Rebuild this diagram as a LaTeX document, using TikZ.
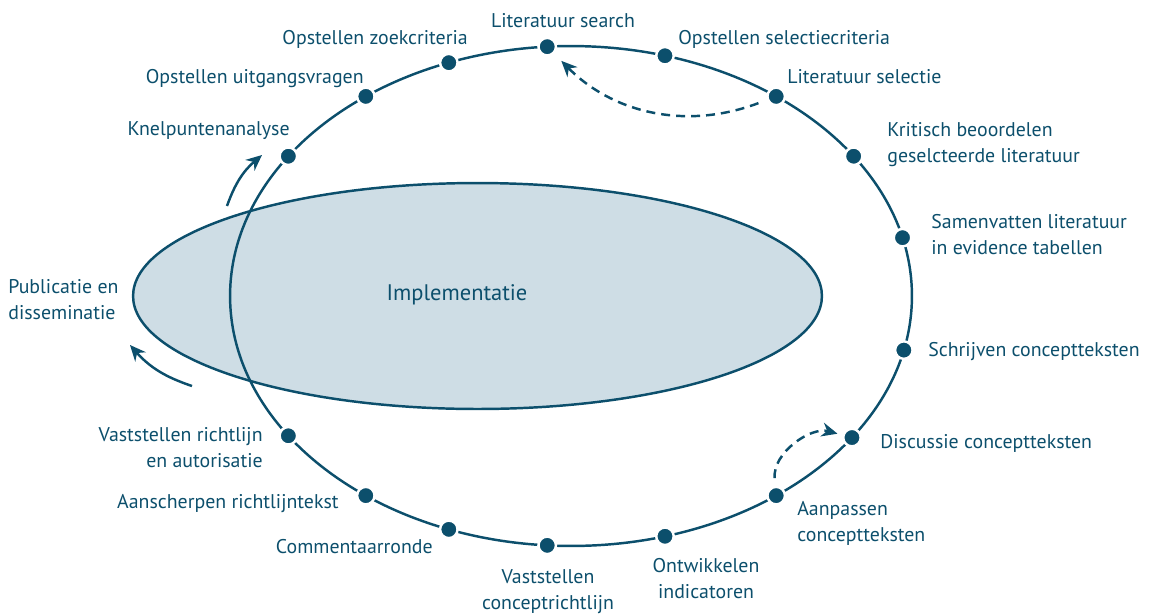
\documentclass[tikz,border=0pt]{standalone}
\usepackage{fontspec}
\setmainfont{PT Sans}
\usetikzlibrary{arrows.meta}
\definecolor{rblue}{RGB}{12,79,108}
\definecolor{rfill}{RGB}{206,221,229}

\begin{document}
\begin{tikzpicture}[x=0.02cm, y=-0.02cm,
    dot/.style={circle, fill=rblue, draw=white, line width=1.4pt, minimum size=0.35cm, inner sep=0},
    lbl/.style={text=rblue, font=\fontsize{11.3}{14.7}\selectfont, inner sep=0},
    flow/.style={rblue, line width=1.4pt, -{Stealth[length=9pt,width=8pt]}},
    flowdash/.style={flow, dash pattern=on 0.18cm off 0.12cm}]
    \useasboundingbox (0,0) rectangle (1149,613);
    \coordinate (c) at (571,296);
    \draw [fill=rfill, draw=rblue, line width=1.4pt] (477.5,296) ellipse [x radius=6.89cm, y radius=2.26cm];
    \draw [rblue, line width=1.4pt] (c) ellipse [x radius=6.82cm, y radius=5cm];
    \foreach \a/\n in {94/search, 74/selcrit, 53/sel, 34/krit, 13.5/samen, -12.5/schrijf,
        -34.5/disc, -53/aanp, -74/ontw, -94/vconc, -111/comm, -127/aansch, -146/vricht,
        146/knel, 127/uitg, 111/zoek}
        \path (c) ++(\a:6.82cm and 5cm) node [dot] (\n) {};

    % multi-line labels are placed at the baseline of their last line
    \node (tsearch) at (563,27) [lbl, anchor=base] {Literatuur search};
    \node (tzoek) at (468,44) [lbl, anchor=base east] {Opstellen zoekcriteria};
    \node (tselcrit) at (678,44) [lbl, anchor=base west] {Opstellen selectiecriteria};
    \node (tuitg) at (364,83) [lbl, anchor=base east] {Opstellen uitgangsvragen};
    \node (tsel) at (787,83) [lbl, anchor=base west] {Literatuur selectie};
    \node (tknel) at (290,135) [lbl, anchor=base east] {Knelpuntenanalyse};
    \node (tkrit) at (887,162) [lbl, anchor=base west, align=left] {Kritisch beoordelen\\geselcteerde literatuur};
    \node (tsamen) at (931,254) [lbl, anchor=base west, align=left] {Samenvatten literatuur\\in evidence tabellen};
    \node (tpub) at (8,319) [lbl, anchor=base west, align=left] {Publicatie en\\disseminatie};
    \node (timpl) at (457,300) [lbl, anchor=base, font=\fontsize{12.8}{15}\selectfont] {Implementatie};
    \node (tschrijf) at (928,356) [lbl, anchor=base west] {Schrijven conceptteksten};
    \node (tdisc) at (880,448) [lbl, anchor=base west] {Discussie conceptteksten};
    \node (tvricht) at (263,467) [lbl, anchor=base east, align=right] {Vaststellen richtlijn\\en autorisatie};
    \node (taansch) at (339,508) [lbl, anchor=base east] {Aanscherpen richtlijntekst};
    \node (tcomm) at (433,553) [lbl, anchor=base east] {Commentaarronde};
    \node (tvconc) at (548,609) [lbl, anchor=base, align=center] {Vaststellen\\conceptrichtlijn};
    \node (tontw) at (706,598) [lbl, anchor=base, align=center] {Ontwikkelen\\indicatoren};
    \node (taanp) at (797,541) [lbl, anchor=base west, align=left] {Aanpassen\\conceptteksten};

    \coordinate (uptail) at (227,206);
    \coordinate (uphead) at (262,155);
    \coordinate (lowtail) at (192,386);
    \coordinate (lowhead) at (130,345);
    \draw [flow] (uptail) to [bend left=15] (uphead);
    \draw [flow] (lowtail) to [bend left=15] (lowhead);
    \draw [flowdash, shorten <=0.18cm, shorten >=0.2cm] (sel) to [bend left=33] (search);
    \draw [flowdash, shorten <=0.15cm, shorten >=0.1cm] (aanp) to [out=95, in=165] (disc);
\end{tikzpicture}
\end{document}
